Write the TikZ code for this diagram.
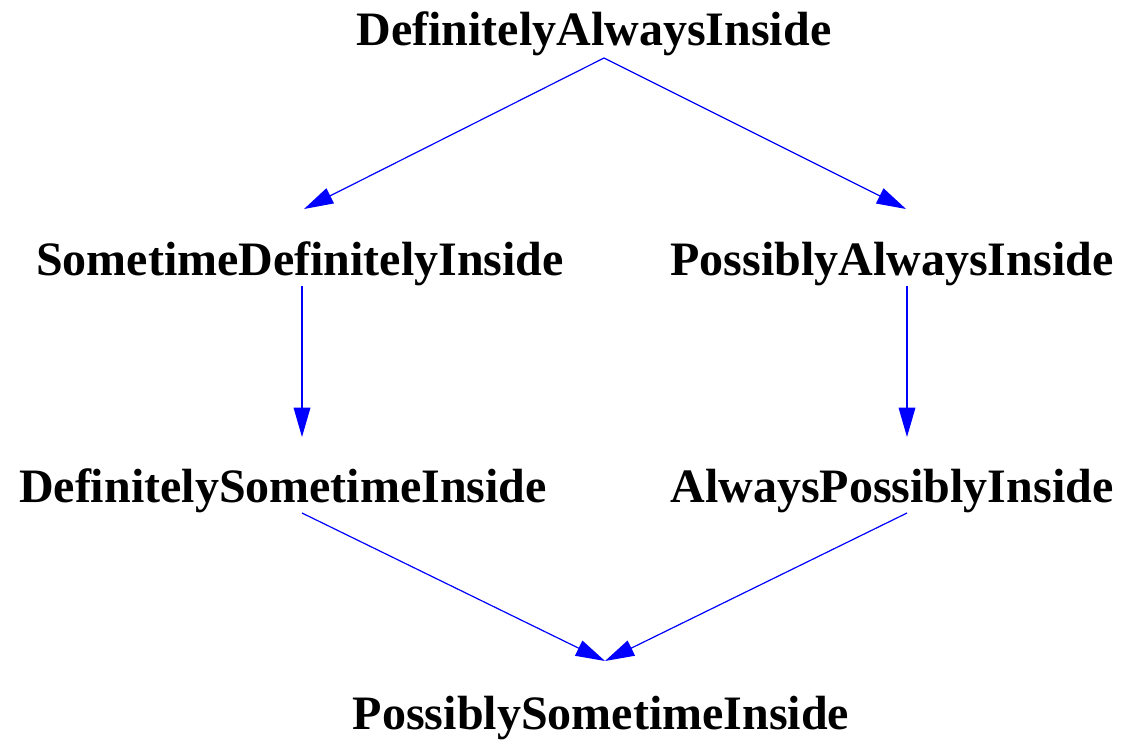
\documentclass[tikz,border=0pt]{standalone}
\usepackage{fontspec}
\setmainfont{Liberation Serif}
\usetikzlibrary{arrows.meta}
\begin{document}
\begin{tikzpicture}[x=0.75pt,y=-0.75pt,
  lbl/.style={font=\fontsize{36}{40}\selectfont\bfseries, inner sep=0pt, anchor=base},
  edge/.style={draw=blue, line width=0.9pt, -{Triangle[length=22pt,width=12.5pt]}, blue}]
\useasboundingbox (0,0) rectangle (1124,747);
\node[lbl] (dai) at (594,45) {DefinitelyAlwaysInside};
\node[lbl] (sdi) at (300,275) {SometimeDefinitelyInside};
\node[lbl] (pai) at (892,275) {PossiblyAlwaysInside};
\node[lbl] (dsi) at (283,502) {DefinitelySometimeInside};
\node[lbl] (api) at (892,502) {AlwaysPossiblyInside};
\node[lbl] (psi) at (601,729) {PossiblySometimeInside};
\coordinate (daiS) at (604,58);
\coordinate (sdiN) at (304,209);
\coordinate (paiN) at (906,209);
\coordinate (sdiS) at (302,286);
\coordinate (dsiN) at (302,437);
\coordinate (paiS) at (907,286);
\coordinate (apiN) at (907,437);
\coordinate (dsiS) at (302,513);
\coordinate (apiS) at (907,513);
\coordinate (psiN) at (605,661);
\draw[edge] (daiS) -- (sdiN);
\draw[edge] (daiS) -- (paiN);
\draw[edge] (sdiS) -- (dsiN);
\draw[edge] (paiS) -- (apiN);
\draw[edge] (dsiS) -- (psiN);
\draw[edge] (apiS) -- (psiN);
\end{tikzpicture}
\end{document}
